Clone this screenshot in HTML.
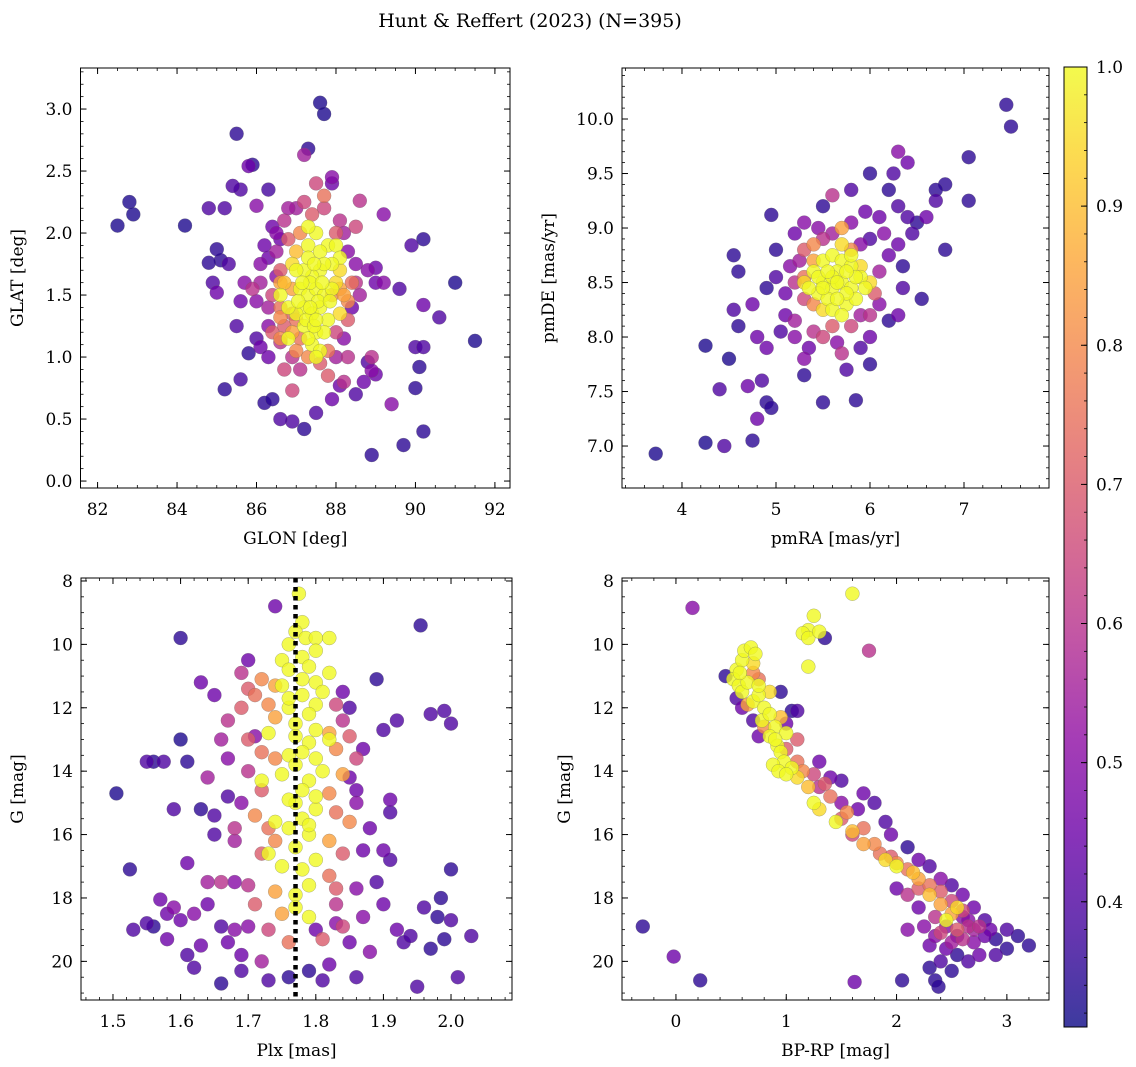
<!DOCTYPE html>
<html><head><meta charset="utf-8"><style>
html,body{margin:0;padding:0;background:#fff;}
svg{display:block;font-family:"DejaVu Serif","Liberation Serif",serif;}
</style></head><body>
<svg id="fig" width="1136" height="1067" viewBox="0 0 1136 1067">
<defs>
<linearGradient id="cbgrad" x1="0" y1="1" x2="0" y2="0">
<stop offset="0" stop-color="#3d3a9f"/><stop offset="0.1" stop-color="#6736b0"/><stop offset="0.2" stop-color="#8833b9"/><stop offset="0.3" stop-color="#a53db6"/><stop offset="0.4" stop-color="#c155a6"/><stop offset="0.5" stop-color="#d66c93"/><stop offset="0.6" stop-color="#e78381"/><stop offset="0.7" stop-color="#f59d6f"/><stop offset="0.8" stop-color="#fdb85e"/><stop offset="0.9" stop-color="#fdd851"/><stop offset="1" stop-color="#f3fa4d"/>
</linearGradient>
</defs>
<text x="530" y="27" font-size="19" text-anchor="middle">Hunt &amp; Reffert (2023) (N=395)</text>
</svg>
<script>
// ---- data: [x, y, probability] ----
const skyPoints=[[82.5,2.06,.33],[82.8,2.25,.33],[82.9,2.15,.33],[84.2,2.06,.33],[85.5,2.8,.35],[87.6,3.05,.33],[87.7,2.96,.33],[87.3,2.68,.35],[87.2,2.63,.55],[85.8,2.54,.45],[85.9,2.55,.35],[84.8,2.2,.4],[85.2,2.2,.4],[85.6,2.35,.4],[85.4,2.38,.4],[86.3,2.35,.38],[86.0,2.22,.5],[87.9,2.45,.5],[88.6,2.26,.6],[89.2,2.15,.5],[91.0,1.6,.33],[91.5,1.13,.33],[90.6,1.32,.4],[90.2,1.95,.35],[89.9,1.9,.4],[89.6,1.55,.4],[90.2,1.42,.45],[90.0,1.08,.4],[90.2,1.08,.4],[90.1,0.92,.35],[90.0,0.75,.35],[90.2,0.4,.35],[89.7,0.29,.35],[89.4,0.62,.5],[88.9,0.21,.35],[88.8,0.96,.4],[88.9,0.89,.5],[89.0,0.86,.45],[88.9,1.0,.6],[88.7,0.8,.45],[88.5,0.7,.4],[88.1,0.77,.45],[87.9,0.66,.45],[87.5,0.55,.4],[87.2,0.42,.35],[86.9,0.48,.4],[86.6,0.5,.4],[86.2,0.63,.35],[86.4,0.66,.35],[85.2,0.74,.35],[85.6,0.82,.38],[85.8,1.03,.35],[84.9,1.6,.4],[85.3,1.75,.4],[85.1,1.78,.35],[84.8,1.76,.35],[85.0,1.87,.35],[85.6,1.45,.45],[85.0,1.52,.45],[85.5,1.25,.4],[86.0,1.15,.4],[86.1,1.08,.45],[86.3,1.0,.45],[86.6,1.12,.6],[86.7,0.9,.65],[87.1,0.9,.6],[86.9,0.73,.65],[87.0,1.3,.75],[86.9,1.35,.7],[86.6,1.32,.8],[86.4,1.2,.7],[86.3,1.4,.55],[86.0,1.45,.5],[85.9,1.55,.6],[85.7,1.6,.5],[86.1,1.75,.5],[86.3,1.8,.45],[86.5,1.65,.5],[86.6,1.7,.7],[86.8,1.95,.7],[86.5,2.0,.5],[86.4,2.05,.45],[86.7,2.1,.6],[87.0,2.2,.55],[86.8,2.2,.55],[87.5,2.4,.65],[88.0,1.2,.65],[88.3,1.0,.6],[88.2,0.8,.6],[87.8,0.85,.7],[87.9,1.5,.8],[88.3,1.3,.7],[88.5,1.6,.6],[88.5,1.75,.5],[88.4,1.4,.45],[88.8,1.7,.5],[89.0,1.72,.45],[89.0,1.6,.45],[89.2,1.6,.5],[88.3,1.85,.5],[88.5,2.05,.65],[88.1,2.1,.6],[88.0,2.0,.7],[87.7,2.3,.75],[87.7,2.2,.65],[87.9,2.4,.45],
[86.2,1.9,.45],[86.5,1.85,.55],[86.1,1.6,.55],[86.4,1.5,.65],[86.6,1.4,.75],[86.7,1.25,.7],[86.9,1.0,.6],[87.6,0.95,.7],[88.0,1.0,.55],[88.2,1.15,.5],[88.4,1.6,.75],[88.6,1.5,.55],[88.2,2.0,.55],[87.4,2.15,.7],[87.2,2.25,.65],[86.6,1.95,.45],[86.3,1.25,.5],[87.1,1.15,.75],[88.1,1.55,.85],[86.9,1.55,.85],
[87.3,1.9,1],[87.5,2.0,1],[87.8,1.9,1],[88.0,1.9,1],[88.1,1.8,1],[87.9,1.75,1],[87.6,1.7,1],[87.4,1.65,1],[87.2,1.7,1],[87.0,1.7,1],[86.9,1.75,.95],[87.1,1.55,1],[87.3,1.5,1],[87.5,1.55,1],[87.7,1.5,1],[87.9,1.55,1],[88.0,1.6,.95],[87.2,1.4,1],[87.4,1.35,1],[87.6,1.4,1],[87.8,1.3,1],[88.1,1.35,.95],[87.0,1.35,1],[86.8,1.4,1],[86.6,1.5,1],[87.2,1.25,1],[87.5,1.2,1],[87.7,1.2,1],[87.4,1.1,1],[87.6,1.05,1],[87.5,1.0,1],[87.3,1.8,1],[87.6,1.85,1],[87.7,1.75,1],[87.35,1.6,1],[87.55,1.45,1],[87.25,1.3,1],[87.45,1.25,1],[86.8,1.15,1],[87.3,2.05,1],[88.1,1.7,.95],[88.2,1.5,.85],[88.3,1.45,.8],[86.7,1.6,.9],[86.6,1.6,.85],[87.0,1.85,.9],[87.1,2.0,.8],[86.9,1.2,.85],[87.0,1.05,.8],[87.3,1.0,.8],[87.8,1.05,.75],[86.6,1.15,.8],[87.45,1.75,1],[87.15,1.6,1],[87.65,1.6,1],[87.35,1.4,1],[87.05,1.45,1],[87.85,1.45,1],[87.5,1.3,1],[87.3,1.15,1]];

const pmPoints=[[3.72,6.93,.33],[4.25,7.92,.33],[4.25,7.03,.33],[4.45,7.0,.4],[4.4,7.52,.4],[4.5,7.8,.33],[4.55,8.25,.4],[4.55,8.75,.35],[4.6,8.6,.35],[4.6,8.1,.35],[4.7,7.55,.45],[4.75,7.05,.35],[4.8,7.25,.45],[4.85,7.6,.4],[4.9,7.4,.35],[4.95,7.35,.35],[4.9,7.9,.45],[4.8,8.0,.45],[4.75,8.3,.45],[4.9,8.45,.35],[5.0,8.55,.4],[5.0,8.8,.35],[4.95,9.12,.35],[5.1,8.2,.45],[5.2,8.0,.5],[5.3,7.8,.5],[5.3,7.65,.35],[5.5,7.4,.35],[5.7,7.85,.6],[5.85,7.42,.35],[5.2,8.95,.45],[5.3,9.05,.5],[5.5,9.2,.35],[5.6,9.3,.6],[5.8,9.35,.4],[5.8,9.05,.5],[6.0,9.5,.35],[6.0,8.9,.4],[6.1,9.1,.45],[6.2,9.35,.35],[6.3,9.7,.5],[6.4,9.6,.45],[6.3,9.2,.4],[6.4,9.1,.4],[6.5,9.05,.35],[6.6,9.1,.45],[6.7,9.25,.4],[6.8,9.4,.35],[6.7,9.35,.35],[7.05,9.65,.35],[7.05,9.25,.35],[7.45,10.13,.35],[7.5,9.93,.35],[6.8,8.8,.35],[6.55,8.35,.35],[6.35,8.65,.35],[6.35,8.45,.4],[6.3,8.2,.45],[6.2,8.15,.35],[6.3,8.85,.45],[6.1,8.6,.55],[6.0,7.75,.35],[5.9,7.9,.4],[6.0,8.0,.45],[5.15,8.65,.5],[5.2,8.5,.6],[5.3,8.35,.65],[5.3,8.8,.7],[5.4,8.85,.8],[5.5,8.9,.6],[5.6,8.95,.55],[5.7,9.0,.85],[5.9,8.85,.5],[6.05,8.4,.7],[6.0,8.2,.6],[5.9,8.2,.55],[5.8,8.1,.65],[5.6,8.1,.7],[5.4,8.05,.6],[5.2,8.15,.55],[5.4,8.3,.8],[5.3,8.55,.75],[5.4,8.7,.85],[5.8,8.8,.8],[5.65,7.95,.5],[5.5,8.0,.65],
[5.1,8.4,.45],[5.05,8.05,.4],[5.35,7.9,.45],[5.75,7.7,.4],[6.1,8.3,.5],[6.2,8.75,.45],[6.15,8.95,.5],[5.95,9.15,.45],[5.45,9.0,.5],[5.25,8.7,.55],[6.45,8.95,.4],[6.25,9.5,.4],
[5.4,8.6,1],[5.5,8.7,1],[5.6,8.75,1],[5.7,8.7,1],[5.8,8.65,1],[5.9,8.55,1],[5.5,8.5,1],[5.6,8.45,1],[5.7,8.5,1],[5.8,8.45,1],[5.65,8.6,1],[5.45,8.4,1],[5.55,8.35,1],[5.75,8.3,1],[5.85,8.35,1],[5.95,8.45,1],[5.35,8.45,1],[5.6,8.25,1],[5.7,8.2,1],[5.5,8.25,.95],[5.8,8.75,1],[5.6,8.55,1],[5.75,8.4,1],[5.65,8.35,1],[5.45,8.55,1],[5.9,8.65,.95],[5.3,8.5,.95],[5.85,8.55,1],[5.55,8.6,1],[6.0,8.5,.95],[5.7,8.85,.95],[5.75,8.6,1],[5.5,8.45,1],[5.65,8.5,1]];

const plxPoints=[[1.775,8.4,1],[1.78,9.3,1],[1.77,9.6,1],[1.785,9.8,1],[1.76,10.0,1],[1.8,9.8,1],[1.8,10.2,1],[1.78,10.4,1],[1.75,10.5,1],[1.76,10.8,1],[1.79,10.7,1],[1.78,11.1,1],[1.8,11.2,1],[1.75,11.3,1],[1.78,11.6,1],[1.8,11.9,1],[1.76,12.0,1],[1.79,12.2,1],[1.77,12.5,1],[1.8,12.7,1],[1.77,12.9,1],[1.79,13.1,1],[1.78,13.4,1],[1.76,13.5,1],[1.8,13.6,1],[1.77,13.8,1],[1.75,14.1,1],[1.79,14.3,1],[1.78,14.6,1],[1.81,14.0,1],[1.77,15.0,1],[1.8,15.2,1],[1.78,15.5,1],[1.76,15.8,1],[1.79,16.0,1],[1.77,16.4,1],[1.8,16.8,1],[1.78,17.1,1],[1.75,17.0,1],[1.79,17.6,1],[1.77,17.9,1],[1.79,18.6,1],[1.81,11.5,1],[1.82,10.9,1],[1.82,9.8,1],[1.73,12.8,1],[1.72,14.3,1],[1.74,15.6,1],[1.73,16.6,1],[1.82,13.0,1],[1.76,11.7,1],[1.79,15.7,1],[1.76,14.9,1],[1.8,14.8,1],[1.77,18.3,1],
[1.72,11.1,.8],[1.74,11.3,.85],[1.71,11.6,.75],[1.73,11.9,.8],[1.69,12.0,.7],[1.7,13.0,.7],[1.72,13.4,.75],[1.74,13.6,.8],[1.7,14.0,.6],[1.72,14.6,.7],[1.71,15.4,.8],[1.73,15.8,.75],[1.74,16.2,.8],[1.72,16.6,.7],[1.7,17.6,.6],[1.74,17.8,.85],[1.75,18.5,.85],[1.76,19.4,.75],[1.82,12.8,.85],[1.83,13.3,.8],[1.84,14.1,.85],[1.82,14.7,.8],[1.83,15.3,.75],[1.85,15.6,.8],[1.82,16.2,.85],[1.84,16.6,.7],[1.82,17.3,.75],[1.83,18.2,.6],[1.84,18.9,.65],[1.81,19.3,.7],[1.85,12.9,.7],[1.86,13.6,.65],[1.84,12.4,.6],[1.67,12.4,.6],[1.66,13.0,.55],[1.68,15.8,.6],[1.68,16.2,.55],[1.66,17.5,.6],[1.7,11.4,.7],[1.69,10.9,.6],[1.71,18.2,.7],[1.73,19.0,.65],[1.83,17.7,.7],[1.74,12.3,.85],[1.83,11.9,.65],
[1.505,14.7,.33],[1.525,17.1,.35],[1.53,19.0,.4],[1.55,18.8,.4],[1.56,18.9,.35],[1.56,13.7,.35],[1.575,13.7,.4],[1.57,18.05,.45],[1.59,18.3,.5],[1.59,15.2,.4],[1.6,13.0,.33],[1.6,9.8,.35],[1.61,13.7,.35],[1.6,18.7,.45],[1.61,19.8,.4],[1.62,18.5,.5],[1.63,11.2,.45],[1.63,15.2,.35],[1.62,20.2,.4],[1.63,19.5,.45],[1.64,17.5,.55],[1.65,16.0,.4],[1.65,15.4,.4],[1.64,14.2,.55],[1.65,11.6,.45],[1.66,18.9,.4],[1.67,19.4,.45],[1.66,20.7,.35],[1.67,14.8,.4],[1.68,19.0,.5],[1.69,19.8,.45],[1.69,20.3,.4],[1.7,10.5,.45],[1.71,12.9,.5],[1.72,20.0,.55],[1.73,20.6,.4],[1.74,8.8,.45],[1.76,20.5,.35],[1.79,20.3,.35],[1.8,19.0,.45],[1.81,20.6,.4],[1.82,20.1,.45],[1.83,18.8,.5],[1.84,11.5,.45],[1.85,12.0,.4],[1.85,14.2,.45],[1.86,14.6,.45],[1.87,16.5,.45],[1.86,17.7,.5],[1.87,18.6,.5],[1.88,19.7,.5],[1.89,17.5,.4],[1.9,16.5,.45],[1.89,11.1,.35],[1.9,12.7,.4],[1.92,12.4,.4],[1.91,15.3,.4],[1.91,16.8,.4],[1.92,19.0,.45],[1.93,19.4,.4],[1.94,19.2,.4],[1.95,20.8,.4],[1.955,9.4,.35],[1.97,12.2,.4],[1.99,12.1,.4],[1.96,18.3,.4],[1.985,18.0,.35],[1.98,18.6,.35],[1.99,19.3,.35],[2.0,17.1,.35],[2.0,12.5,.4],[2.0,18.7,.4],[2.01,20.5,.4],[2.03,19.2,.4],[1.97,19.6,.35],[1.58,18.5,.45],[1.61,16.9,.45],[1.68,17.5,.5],[1.88,15.8,.45],[1.86,15.0,.5],[1.55,13.7,.4],[1.58,19.3,.45],[1.86,20.5,.4],[1.9,18.2,.45],[1.91,14.9,.45],[1.64,18.2,.45],[1.7,18.9,.5],[1.85,19.4,.45],[1.87,13.3,.45],[1.67,13.6,.5],[1.69,15.0,.5]];

const cmdPoints=[[0.55,10.8,1],[0.6,10.5,1],[0.62,10.2,1],[0.68,10.1,1],[0.72,10.3,1],[0.7,10.6,.95],[0.52,11.1,1],[0.57,11.3,1],[0.6,11.5,1],[0.65,11.2,1],[0.7,11.8,1],[0.75,11.6,1],[0.8,12.0,1],[0.78,12.4,1],[0.85,12.2,1],[0.9,12.6,1],[0.85,12.9,1],[0.92,13.2,1],[0.95,13.4,1],[0.98,13.7,1],[0.88,13.8,1],[0.93,14.0,1],[1.05,13.9,1],[1.1,14.2,.95],[1.2,14.5,.9],[1.25,15.0,1],[1.3,15.2,.95],[1.45,15.6,1],[1.6,15.9,.9],[1.7,16.3,.85],[1.9,16.8,.95],[2.0,17.0,1],[2.15,17.2,.9],[2.2,17.4,.85],[2.3,17.9,.9],[2.4,18.2,.85],[2.5,18.5,.85],[2.45,18.7,1],[2.55,18.3,.95],[1.25,9.1,1],[1.2,9.55,1],[1.15,9.65,1],[1.2,9.8,1],[1.3,9.6,1],[1.6,8.4,1],[1.2,10.7,1],[0.85,11.5,.95],[1.0,12.8,1],[0.95,12.3,.9],[0.58,10.9,1],[0.75,11.3,1],[0.9,13.0,1],[1.0,14.1,1],
[0.7,10.9,.8],[0.75,11.1,.75],[0.65,11.9,.85],[0.8,12.6,.8],[1.0,13.3,.7],[1.1,13.7,.75],[1.15,14.0,.8],[1.25,14.1,.65],[1.35,14.4,.7],[1.4,14.8,.75],[1.55,15.3,.8],[1.7,15.8,.75],[1.8,16.3,.8],[1.85,16.6,.75],[2.0,16.9,.8],[2.1,17.1,.75],[2.2,17.7,.7],[2.3,17.6,.75],[2.4,17.8,.7],[2.5,18.1,.65],[2.6,18.4,.65],[2.65,18.9,.6],[2.55,19.0,.7],[2.7,19.0,.55],[2.6,19.3,.6],[2.4,19.1,.65],[2.5,19.4,.55],[1.1,13.0,.7],[1.3,14.5,.6],[1.6,16.0,.65],[2.1,17.9,.6],[2.35,18.6,.6],[1.75,10.2,.6],[2.75,18.9,.6],[1.5,15.5,.7],[1.95,16.7,.7],
[0.15,8.85,.5],[0.45,11.0,.35],[0.55,11.7,.4],[0.6,12.0,.45],[0.7,12.4,.4],[0.75,12.9,.45],[1.05,12.1,.35],[1.1,12.1,.4],[1.3,13.7,.45],[1.5,14.3,.4],[1.7,14.7,.45],[1.8,15.0,.4],[1.65,15.2,.45],[1.9,15.6,.4],[1.95,16.0,.45],[2.1,16.4,.35],[2.2,16.8,.45],[2.3,17.0,.4],[2.4,17.4,.5],[2.5,17.6,.4],[2.6,17.9,.45],[2.7,18.3,.45],[2.8,18.7,.4],[2.85,19.0,.45],[2.9,19.3,.35],[3.0,19.0,.4],[3.0,19.6,.35],[3.1,19.2,.35],[3.2,19.5,.35],[2.9,19.8,.4],[2.75,19.8,.45],[2.65,20.0,.4],[2.55,19.8,.35],[2.5,20.3,.35],[2.4,20.0,.4],[2.3,20.2,.35],[2.35,20.6,.35],[2.38,20.8,.35],[2.3,19.5,.45],[2.2,18.3,.45],[2.1,19.0,.5],[2.25,18.9,.5],[2.35,19.2,.5],[2.45,19.6,.45],[2.7,19.4,.5],[2.8,19.2,.45],[-0.3,18.9,.35],[-0.02,19.85,.45],[0.22,20.6,.35],[1.62,20.65,.45],[2.05,20.6,.35],[1.35,9.8,.35],[1.0,12.5,.45],[0.95,11.5,.35],[1.5,15.0,.5],[1.4,14.2,.45],[2.0,17.7,.45],[2.6,18.6,.5],[2.45,18.9,.5],[2.55,19.2,.45],[2.65,18.7,.5]];

const skyXTicks=[82,84,86,88,90,92];
const skyYTicks=[0.0,0.5,1.0,1.5,2.0,2.5,3.0];
const pmXTicks=[4,5,6,7];
const pmYTicks=[7.0,7.5,8.0,8.5,9.0,9.5,10.0];
const plxXTicks=[1.5,1.6,1.7,1.8,1.9,2.0];
const magTicks=[8,10,12,14,16,18,20];
const cmdXTicks=[0,1,2,3];
const cbarTicks=[0.4,0.5,0.6,0.7,0.8,0.9,1.0];
const plxRef=[1.77];
const vmin=0.31, vmax=1.0;

const NS='http://www.w3.org/2000/svg';
const svg=document.getElementById('fig');
function mk(tag,attrs,parent){const e=document.createElementNS(NS,tag);for(const k in attrs)e.setAttribute(k,attrs[k]);(parent||svg).appendChild(e);return e;}

const plasma=[[13,8,135],[65,4,157],[106,0,168],[143,13,164],[177,42,144],[204,71,120],[225,100,98],[242,132,75],[252,166,54],[252,206,37],[240,249,33]];
function cmap(p){let t=(p-vmin)/(vmax-vmin);t=Math.max(0,Math.min(1,t))*10;const i=Math.min(9,Math.floor(t)),f=t-i;const a=plasma[i],b=plasma[i+1];return 'rgb('+[0,1,2].map(k=>Math.round(a[k]+(b[k]-a[k])*f)).join(',')+')';}

function panel(o){
  const g=mk('g',{});
  
  
  const sx=v=>o.L+(v-o.x0)/(o.x1-o.x0)*(o.R-o.L);
  const sy=v=>o.B-(v-o.y0)/(o.y1-o.y0)*(o.B-o.T);
  const cid='clip-'+o.name;
  const cp=mk('clipPath',{id:cid},g);mk('rect',{x:o.L,y:o.T,width:o.R-o.L,height:o.B-o.T},cp);
  const pg=mk('g',{'clip-path':'url(#'+cid+')'},g);
  
  
  const pts=o.data.slice().sort((a,b)=>a[2]-b[2]);
  pts.forEach(d=>{
    const c=mk('circle',{cx:sx(d[0]).toFixed(1),cy:sy(d[1]).toFixed(1),r:7,fill:cmap(d[2]),'fill-opacity':0.8,stroke:'#666','stroke-opacity':0.5,'stroke-width':0.5},pg);
    
    
  });
  if(o.vline){o.vline.forEach(v=>{const l=mk('line',{x1:sx(v),x2:sx(v),y1:o.T,y2:o.B,stroke:'#000','stroke-width':4.5,'stroke-dasharray':'4.5,4.5'},pg);
    
    });}
  const fr=mk('rect',{x:o.L,y:o.T,width:o.R-o.L,height:o.B-o.T,fill:'none',stroke:'#000','stroke-width':1},g);
  
  
  const eps=1e-9;
  for(let v=Math.ceil(o.x0/o.xm-eps)*o.xm;v<=o.x1+eps;v+=o.xm){const x=sx(v);mk('line',{x1:x,x2:x,y1:o.B,y2:o.B-3,stroke:'#000','stroke-width':0.8},g);mk('line',{x1:x,x2:x,y1:o.T,y2:o.T+3,stroke:'#000','stroke-width':0.8},g);}
  for(let v=Math.ceil(Math.min(o.y0,o.y1)/o.ym-eps)*o.ym;v<=Math.max(o.y0,o.y1)+eps;v+=o.ym){const y=sy(v);mk('line',{x1:o.L,x2:o.L+3,y1:y,y2:y,stroke:'#000','stroke-width':0.8},g);mk('line',{x1:o.R,x2:o.R-3,y1:y,y2:y,stroke:'#000','stroke-width':0.8},g);}
  o.xt.forEach(v=>{const x=sx(v);if(x<o.L-1||x>o.R+1)return;mk('line',{x1:x,x2:x,y1:o.B,y2:o.B-6,stroke:'#000','stroke-width':1},g);mk('line',{x1:x,x2:x,y1:o.T,y2:o.T+6,stroke:'#000','stroke-width':1},g);
    const t=mk('text',{x:x,y:o.B+27,'font-size':17,'text-anchor':'middle'},g);t.textContent=o.xf(v);
    
    });
  o.yt.forEach(v=>{const y=sy(v);mk('line',{x1:o.L,x2:o.L+6,y1:y,y2:y,stroke:'#000','stroke-width':1},g);mk('line',{x1:o.R,x2:o.R-6,y1:y,y2:y,stroke:'#000','stroke-width':1},g);
    const t=mk('text',{x:o.L-8,y:y+6,'font-size':17,'text-anchor':'end'},g);t.textContent=o.yf(v);
    
    });
  const xl=mk('text',{x:(o.L+o.R)/2,y:o.B+56,'font-size':17,'text-anchor':'middle'},g);xl.textContent=o.xlab;
  
  
  const yl=mk('text',{x:o.ylx,y:(o.T+o.B)/2,'font-size':17,'text-anchor':'middle',transform:'rotate(-90 '+o.ylx+' '+(o.T+o.B)/2+')'},g);yl.textContent=o.ylab;
  
  
}
const f1=v=>v.toFixed(1), f0=v=>String(v);
panel({name:'glon-glat-panel',data:skyPoints,L:80.5,R:510,T:68,B:488,x0:81.57,x1:92.38,y0:-0.056,y1:3.331,xm:0.5,ym:0.1,xt:skyXTicks,yt:skyYTicks,xf:f0,yf:f1,xlab:'GLON [deg]',ylab:'GLAT [deg]',ylx:23});
panel({name:'pmra-pmde-panel',data:pmPoints,L:622,R:1049,T:68,B:488,x0:3.362,x1:7.904,y0:6.615,y1:10.468,xm:0.2,ym:0.1,xt:pmXTicks,yt:pmYTicks,xf:f0,yf:f1,xlab:'pmRA [mas/yr]',ylab:'pmDE [mas/yr]',ylx:554});
panel({name:'plx-g-panel',data:plxPoints,L:81,R:512,T:578,B:1000,x0:1.4527,x1:2.0902,y0:21.219,y1:7.906,xm:0.02,ym:0.5,xt:plxXTicks,yt:magTicks,xf:f1,yf:f0,xlab:'Plx [mas]',ylab:'G [mag]',ylx:23,vline:plxRef});
panel({name:'cmd-panel',data:cmdPoints,L:622,R:1049,T:578,B:1000,x0:-0.489,x1:3.382,y0:21.219,y1:7.906,xm:0.2,ym:0.5,xt:cmdXTicks,yt:magTicks,xf:f0,yf:f0,xlab:'BP-RP [mag]',ylab:'G [mag]',ylx:570});

const cb=mk('g',{});


const cT=67,cB=1027,cL=1064,cR=1087;
mk('rect',{x:cL,y:cT,width:cR-cL,height:cB-cT,fill:'url(#cbgrad)',stroke:'#000','stroke-width':1},cb);
const cy=v=>cB-(v-vmin)/(vmax-vmin)*(cB-cT);
for(let v=0.32;v<=1.0001;v+=0.02){mk('line',{x1:cR,x2:cR-3,y1:cy(v),y2:cy(v),stroke:'#000','stroke-width':0.8},cb);}
cbarTicks.forEach(v=>{const y=cy(v);mk('line',{x1:cR,x2:cR-6,y1:y,y2:y,stroke:'#000','stroke-width':1},cb);
  const t=mk('text',{x:cR+9,y:y+6,'font-size':17},cb);t.textContent=v.toFixed(1);
  
  });
</script>
</body></html>
